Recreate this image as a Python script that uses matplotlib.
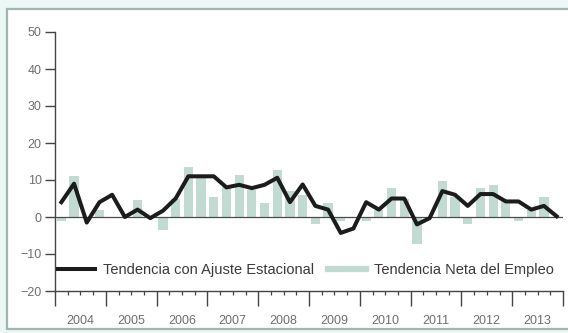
import numpy as np
import matplotlib
matplotlib.use('Agg')
import matplotlib.pyplot as plt
from matplotlib.patches import Rectangle
from matplotlib.lines import Line2D
import matplotlib.transforms as mtransforms

# ============================================================
# DATA (quarterly, 2004Q1 .. 2013Q4)
# ============================================================
YEARS = list(range(2004, 2014))
AJUSTE_ESTACIONAL = [4, 9, -1.5, 4,   6, 0, 2, -0.3,   1.7, 5, 11, 11,
                     11, 8, 8.7, 7.8,   8.7, 10.6, 4, 8.8,   3, 2, -4.3, -3.1,
                     4, 2, 5, 5,   -2, -0.3, 7, 6,   3, 6.2, 6.2, 4.2,
                     4.2, 2, 3, 0.2]
NETA_EMPLEO = [-1, 11, 0, 2,   0, 0, 4.6, 0,   -3.4, 5, 13.6, 11,
               5.5, 8.2, 11.3, 7.3,   3.8, 12.7, 7, 6,   -2, 3.8, -1, 0,
               -1, 2, 7.8, 5,   -7.4, 0, 9.6, 5.5,   -2, 7.8, 8.7, 4.6,
               -1, 2, 5.5, 0]
LABEL_LINE = 'Tendencia con Ajuste Estacional'
LABEL_BAR = 'Tendencia Neta del Empleo'
# ============================================================

LINE_COLOR = '#1c1c1c'
BAR_COLOR = '#c2dbd2'
AXIS_COLOR = '#444444'
TEXT_COLOR = '#6f6f6f'

plt.rcParams.update({
    'font.family': ['Liberation Sans Narrow', 'Liberation Sans', 'DejaVu Sans'],
    'font.size': 9,
})

x = np.array([y + (q + 0.5) / 4 for y in YEARS for q in range(4)])

fig = plt.figure(figsize=(5.68, 3.33), dpi=100)
fig.patch.set_facecolor('#edf7f5')
frame = Rectangle((7 / 568, 4 / 333), 1.0, 320 / 333,
                  transform=fig.transFigure, facecolor='white',
                  edgecolor='#9fb6ad', linewidth=1.6, zorder=-10)
fig.add_artist(frame)

ax = fig.add_axes([55 / 568, 42 / 333, 508 / 568, 259 / 333])
ax.set_facecolor('none')
ax.set_zorder(5)

ax.bar(x, NETA_EMPLEO, width=0.18, color=BAR_COLOR, zorder=1)
ax.axhline(0, color='#4a4a4a', linewidth=0.9, zorder=2)
ax.plot(x, AJUSTE_ESTACIONAL, color=LINE_COLOR, linewidth=2.9, zorder=3)

ax.set_xlim(2004, 2014)
ax.set_ylim(-20, 50)

for s in ['top', 'right']:
    ax.spines[s].set_visible(False)
for s in ['left', 'bottom']:
    ax.spines[s].set_color(AXIS_COLOR)
    ax.spines[s].set_linewidth(1.0)

ax.set_yticks(range(-20, 51, 10))
ax.tick_params(axis='y', direction='out', length=7.5, width=1.0,
               color=AXIS_COLOR, labelcolor=TEXT_COLOR, labelsize=9, pad=2)

ax.set_xticks(range(2004, 2015))
ax.set_xticks(np.arange(2004, 2014, 0.25), minor=True)
ax.set_xticklabels([])
ax.tick_params(axis='x', which='major', direction='out', length=11, width=1.0,
               color=AXIS_COLOR)
ax.tick_params(axis='x', which='minor', direction='out', length=3, width=0.9,
               color=AXIS_COLOR)

trans = mtransforms.blended_transform_factory(ax.transData, fig.transFigure)
for yr in YEARS:
    ax.text(yr + 0.5, 12 / 333, str(yr), transform=trans, ha='center',
            va='center', fontsize=9, color=TEXT_COLOR)

handles = [Line2D([], [], color=LINE_COLOR, linewidth=2.9),
           Line2D([], [], color=BAR_COLOR, linewidth=4.5)]
ax.legend(handles, [LABEL_LINE, LABEL_BAR], ncol=2, frameon=False,
          loc='center left', bbox_to_anchor=(0.005, 0.081),
          borderaxespad=0, borderpad=0, handlelength=2.6,
          handletextpad=0.5, columnspacing=1.0,
          prop={'size': 10.5}, labelcolor='#3a3a3a')

fig.savefig('out.png', dpi=100)
